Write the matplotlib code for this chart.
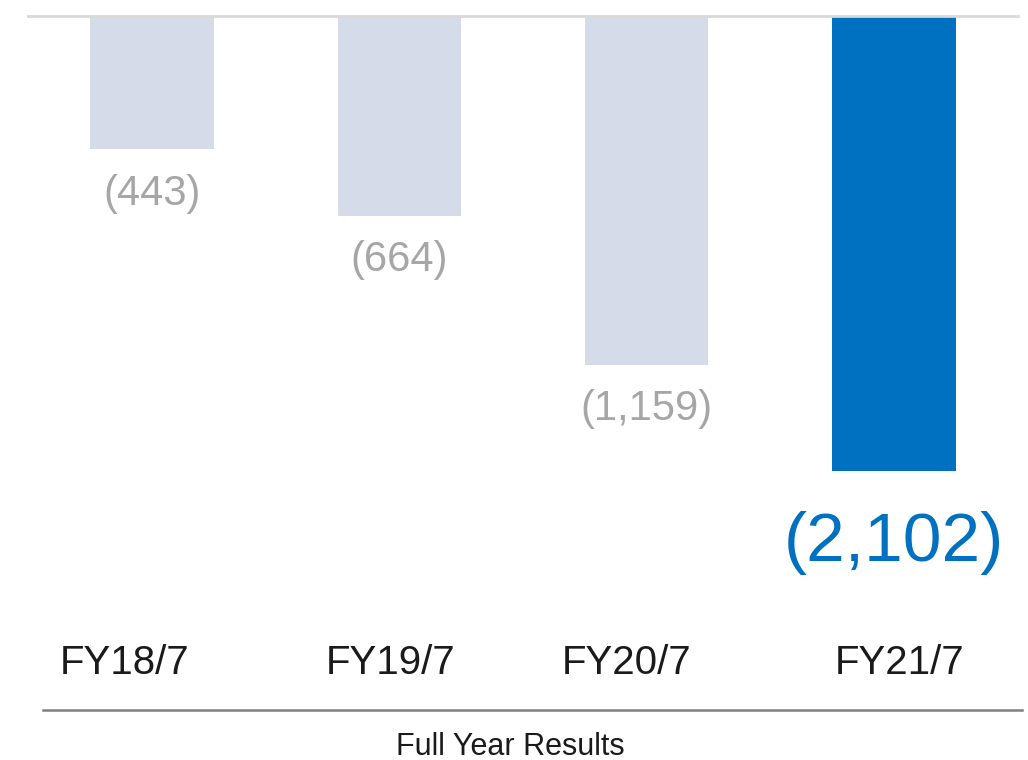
import matplotlib.pyplot as plt
from matplotlib.lines import Line2D

plt.rcParams['font.family'] = ['Liberation Sans', 'DejaVu Sans']

periods = ['FY18/7', 'FY19/7', 'FY20/7', 'FY21/7']
values = [-443, -664, -1159, -2102]
value_labels = ['(443)', '(664)', '(1,159)', '(2,102)']
# the last bar is shortened in the original slide (not to scale)
bar_depth = [-443, -664, -1159, -1512]
highlight = [False, False, False, True]

grey_bar = '#D6DBE9'
blue = '#0070C0'
grey_text = '#A6A6A6'

fig = plt.figure(figsize=(10.28, 7.6), dpi=100)
ax = fig.add_axes([0, 0, 1, 1])

# one category step is ~247 px, one unit is ~0.301 px
ax.set_xlim(-0.6146, 3.5418)
ax.set_ylim(-2471.8, 53.2)
ax.axis('off')

x = range(len(periods))
colors = [blue if h else grey_bar for h in highlight]
ax.bar(x, bar_depth, width=0.5, color=colors, zorder=2)

# zero line across the top
ax.axhline(0, xmin=28 / 1028, xmax=1018 / 1028, color='#D9D9D9', lw=2, zorder=3)

for i, (d, lab, h) in enumerate(zip(bar_depth, value_labels, highlight)):
    if h:
        ax.annotate(lab, (i, d), xytext=(0, -52), textcoords='offset points',
                    ha='center', va='center', fontsize=50, color=blue)
    else:
        ax.annotate(lab, (i, d), xytext=(0, -32), textcoords='offset points',
                    ha='center', va='center', fontsize=30, color=grey_text)

# category labels
label_shift = [-27, -9, -20, 6]
for i, (p, s) in enumerate(zip(periods, label_shift)):
    xp = ax.transData.transform((i, 0))[0] + s
    fig.text(xp / 1028, 1 - 663 / 760, p, ha='center', va='center',
             fontsize=29, color='#1a1a1a')

fig.add_artist(Line2D([43 / 1028, 1022 / 1028], [1 - 710 / 760, 1 - 710 / 760],
                      color='#7f7f7f', lw=1.8, transform=fig.transFigure))
fig.text(510 / 1028, 1 - 747 / 760, 'Full Year Results', ha='center', va='center',
         fontsize=22, color='#1a1a1a')

fig.savefig('out.png', dpi=100)
